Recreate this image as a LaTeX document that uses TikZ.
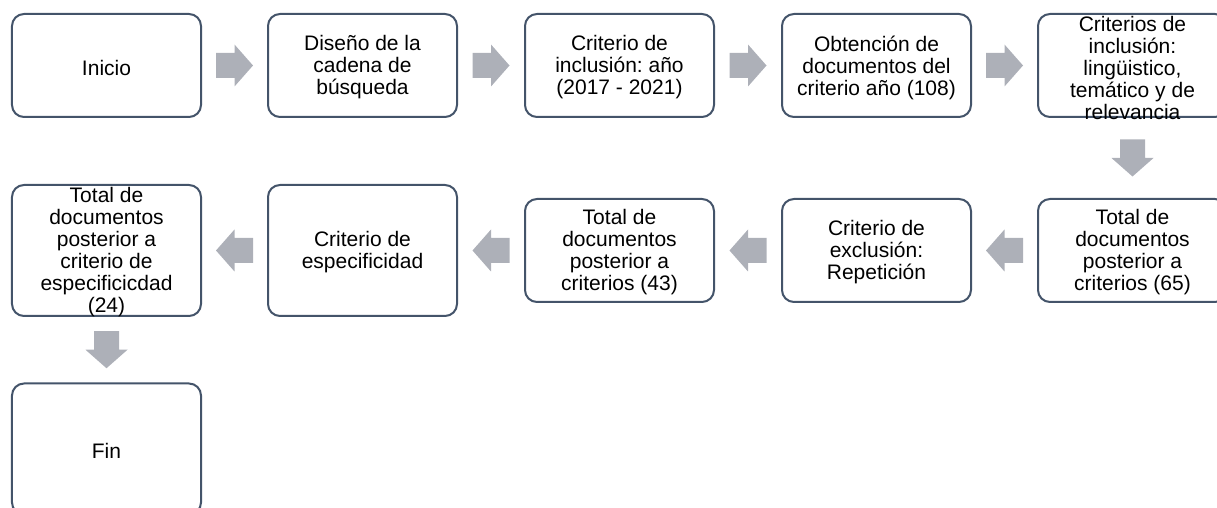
\documentclass[tikz,border=0pt]{standalone}
\usepackage{fontspec}
\setmainfont{Liberation Sans}
\frenchspacing
\usetikzlibrary{calc}
\definecolor{boxline}{RGB}{68,84,106}
\definecolor{arrowgray}{RGB}{173,176,184}
\begin{document}
\begin{tikzpicture}[x=1bp,y=-1bp,
  box/.style={draw=boxline, line width=2bp, rounded corners=12bp, minimum width=189bp, minimum height=103bp, inner sep=0pt, fill=white},
  tallbox/.style={box, minimum height=131bp},
  lbl/.style={inner sep=0pt, align=center, font=\fontsize{21bp}{22bp}\selectfont\frenchspacing, text=black, yshift=-2bp},
  barrow/.pic={\fill[arrowgray] (-18.5,-12.5) -- (0,-12.5) -- (0,-21) -- (18.5,0) -- (0,21) -- (0,12.5) -- (-18.5,12.5) -- cycle;}
]
\useasboundingbox (0,0) rectangle (1217,508);
\clip (0,0) rectangle (1217,508);
% row 1
\node[box] (b1) at (106.5,65.5) {};
\node[box] (b2) at (362.5,65.5) {};
\node[box] (b3) at (619.5,65.5) {};
\node[box] (b4) at (876.5,65.5) {};
\node[box] (b5) at (1132.5,65.5) {};
% row 2
\node[box] (b6) at (1132.5,250.5) {};
\node[box] (b7) at (876.5,250.5) {};
\node[box] (b8) at (619.5,250.5) {};
\node[tallbox] (b9) at (362.5,250.5) {};
\node[tallbox] (b10) at (106.5,250.5) {};
% row 3
\node[tallbox] (b11) at (106.5,449) {};
% texts
\node[lbl] (t1) at (b1) {Inicio};
\node[lbl] (t2) at (b2) {Diseño de la\\cadena de\\búsqueda};
\node[lbl] (t3) at (b3) {Criterio de\\inclusión: año\\(2017 - 2021)};
\node[lbl] (t4) at (b4) {Obtención de\\documentos del\\criterio año (108)};
\node[lbl] (t5) at (b5) {Criterios de\\inclusión:\\lingüistico,\\temático y de\\relevancia};
\node[lbl] (t6) at (b6) {Total de\\documentos\\posterior a\\criterios (65)};
\node[lbl] (t7) at (b7) {Criterio de\\exclusión:\\Repetición};
\node[lbl] (t8) at (b8) {Total de\\documentos\\posterior a\\criterios (43)};
\node[lbl] (t9) at (b9) {Criterio de\\especificidad};
\node[lbl] (t10) at (b10) {Total de\\documentos\\posterior a\\criterio de\\especificicdad\\(24)};
\node[lbl] (t11) at (b11) {Fin};
% arrows
\pic at ($(b1.east)!0.5!(b2.west)$) {barrow};
\pic at ($(b2.east)!0.5!(b3.west)$) {barrow};
\pic at ($(b3.east)!0.5!(b4.west)$) {barrow};
\pic at ($(b4.east)!0.5!(b5.west)$) {barrow};
\pic[rotate=-90] at ($(b5.south)!0.5!(b6.north)$) {barrow};
\pic[rotate=180] at ($(b6.west)!0.5!(b7.east)$) {barrow};
\pic[rotate=180] at ($(b7.west)!0.5!(b8.east)$) {barrow};
\pic[rotate=180] at ($(b8.west)!0.5!(b9.east)$) {barrow};
\pic[rotate=180] at ($(b9.west)!0.5!(b10.east)$) {barrow};
\pic[rotate=-90] at ($(b10.south)!0.5!(b11.north)$) {barrow};
\end{tikzpicture}
\end{document}
